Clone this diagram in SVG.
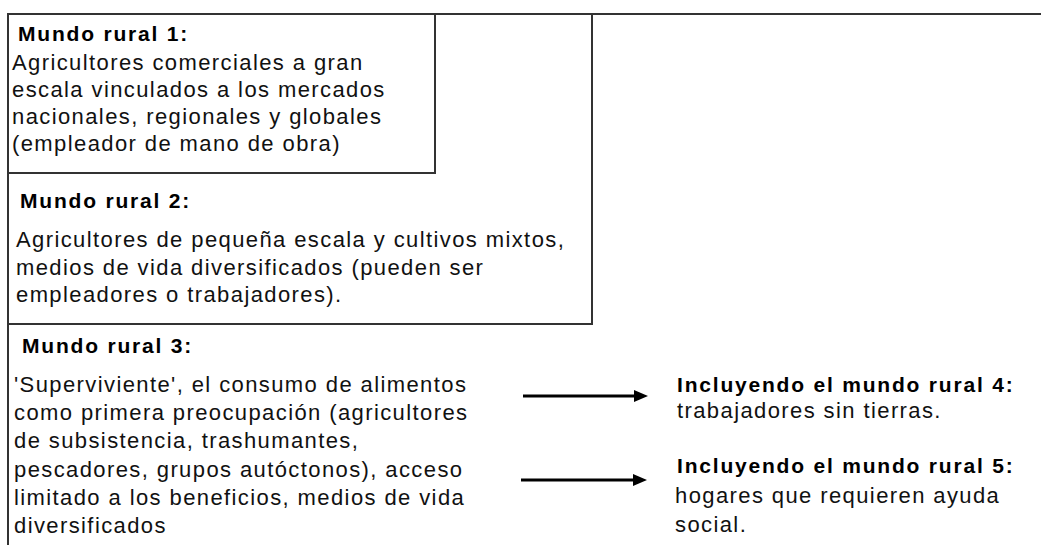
<svg xmlns="http://www.w3.org/2000/svg" width="1041" height="545" viewBox="0 0 1041 545">
<style>
.frame{fill:none;stroke:#333;stroke-width:2}
.h{font-family:"Liberation Sans",Arial,sans-serif;font-size:21px;font-weight:bold;letter-spacing:1.8px;fill:#000}
.t{font-family:"Liberation Sans",Arial,sans-serif;font-size:22px;letter-spacing:1.4px;fill:#111}
.arrow{stroke:#000;stroke-width:3;fill:none}
</style>
<defs>
<marker id="ah" viewBox="0 0 14 12" refX="0" refY="6" markerWidth="14" markerHeight="12" markerUnits="userSpaceOnUse" orient="auto">
<path d="M0,0 L14,6 L0,12 Z" fill="#000"/>
</marker>
</defs>
<rect width="1041" height="545" fill="#fff"/>
<g id="frame">
<line class="frame" x1="7" y1="14" x2="1041" y2="14"/>
<line class="frame" x1="8" y1="14" x2="8" y2="545"/>
</g>
<g id="mundo1">
<rect class="frame" x="8" y="14" width="427" height="159"/>
<text class="h" x="18" y="41">Mundo rural 1:</text>
<text class="t" x="12" y="70">Agricultores comerciales a gran</text>
<text class="t" x="12" y="97">escala vinculados a los mercados</text>
<text class="t" x="12" y="124">nacionales, regionales y globales</text>
<text class="t" x="12" y="151">(empleador de mano de obra)</text>
</g>
<g id="mundo2">
<polyline class="frame" points="592,14 592,324 8,324"/>
<text class="h" x="20" y="208">Mundo rural 2:</text>
<text class="t" x="16" y="247">Agricultores de pequeña escala y cultivos mixtos,</text>
<text class="t" x="16" y="275">medios de vida diversificados (pueden ser</text>
<text class="t" x="16" y="302">empleadores o trabajadores).</text>
</g>
<g id="mundo3">
<text class="h" x="22" y="353">Mundo rural 3:</text>
<text class="t" x="14" y="392">'Superviviente', el consumo de alimentos</text>
<text class="t" x="14" y="420">como primera preocupación (agricultores</text>
<text class="t" x="14" y="448">de subsistencia, trashumantes,</text>
<text class="t" x="14" y="477">pescadores, grupos autóctonos), acceso</text>
<text class="t" x="14" y="505">limitado a los beneficios, medios de vida</text>
<text class="t" x="14" y="533">diversificados</text>
</g>
<g id="mundo4">
<text class="h" x="677" y="392">Incluyendo el mundo rural 4:</text>
<text class="t" x="677" y="418">trabajadores sin tierras.</text>
</g>
<g id="mundo5">
<text class="h" x="677" y="473">Incluyendo el mundo rural 5:</text>
<text class="t" x="675" y="503">hogares que requieren ayuda</text>
<text class="t" x="675" y="532">social.</text>
</g>
<g id="connectors">
<line class="arrow" x1="523" y1="396" x2="634" y2="396" marker-end="url(#ah)"/>
<line class="arrow" x1="521" y1="480" x2="633" y2="480" marker-end="url(#ah)"/>
</g>
</svg>
